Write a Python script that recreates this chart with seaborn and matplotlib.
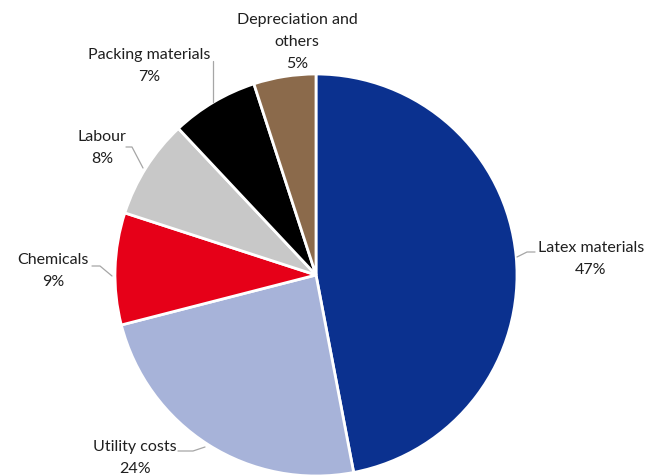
import matplotlib
matplotlib.use("Agg")
import matplotlib.pyplot as plt
import seaborn as sns

sns.set_style("white")
plt.rcParams['font.family'] = ['Lato', 'DejaVu Sans']

categories = ["Latex materials", "Utility costs", "Chemicals", "Labour",
              "Packing materials", "Depreciation and\nothers"]
values = [47, 24, 9, 8, 7, 5]
colors = ["#0B318F", "#A7B3D9", "#E60018", "#C8C8C8", "#000000", "#8B6A4B"]

W, H = 664, 477
CX, CY, R = 316, 276, 201

fig = plt.figure(figsize=(W / 100, H / 100), dpi=100)
ax = fig.add_axes([(CX - R) / W, (H - CY - R) / H, 2 * R / W, 2 * R / H])
ax.pie(values, colors=colors, startangle=90, counterclock=False, radius=1,
       wedgeprops=dict(edgecolor="white", linewidth=2))
ax.set_xlim(-1, 1)
ax.set_ylim(-1, 1)
ax.set_aspect("equal")
ax.axis("off")


def d(x, y):
    return ((x - CX) / R, (CY - y) / R)


# label anchor (pixel) positions: centre of the two/three-line block
label_pos = [(591, 259), (135, 458), (53, 271), (102, 148), (149, 66), (297, 42)]
leaders = [
    [(517, 258), (527, 253), (535, 253)],
    [(178, 452), (193, 452), (205, 448)],
    [(92, 267), (100, 267), (112, 277)],
    [(126, 148), (132, 148), (143, 169)],
    [(213, 62), (213, 103)],
    [],
]

for cat, v, pos, ld in zip(categories, values, label_pos, leaders):
    x, y = d(*pos)
    ax.text(x, y, f"{cat}\n{v}%", ha="center", va="center", fontsize=11.5,
            color="#1F1F1F", linespacing=1.7, clip_on=False)
    if ld:
        pts = [d(*p) for p in ld]
        ax.plot([p[0] for p in pts], [p[1] for p in pts], color="#A6A6A6",
                lw=0.9, clip_on=False)

fig.savefig("out.png", dpi=100)
